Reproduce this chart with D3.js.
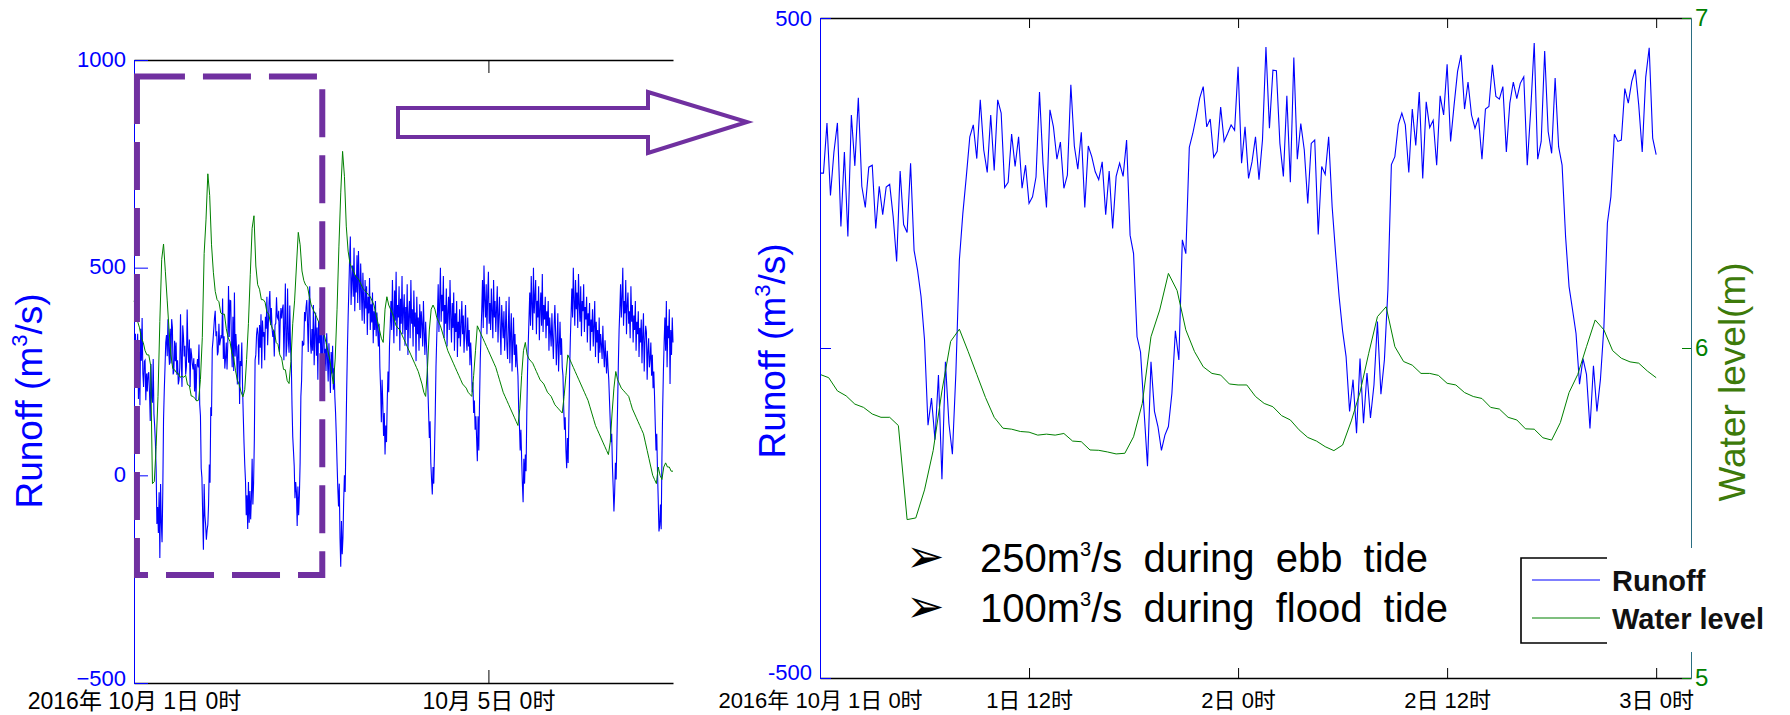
<!DOCTYPE html>
<html>
<head>
<meta charset="utf-8">
<script src="https://cdn.jsdelivr.net/npm/d3@7"></script>
<style>
body{margin:0;background:#fff}
text{font-family:"Liberation Sans",Arial,"Noto Sans CJK SC",sans-serif}
</style>
</head>
<body>
<script>
// runoff (m3/s), one value every 12 min from 2016-10-01 0:00
var runoff=[
265,265,341,231,297,341,184,297,169,353,276,379,245,213,274,277,181,245,202,244,248,199,131,268,187,175,280,148,118,78,12,-117,-76,-139,-41,-199,-21,-114,-161,-38,133,204,260,320,338,287,376,300,266,353,269,376,356,243,251,324,275,320,242,277,219,
229,259,388,280,213,361,335,286,312,242,262,399,306,271,327,213,306,290,267,255,282,202,268,181,260,280,260,315,171,143,17,-6,-94,-179,-21,-96,-119,-155,-132,-119,-69,26,-18,164,143,304,325,351,379,396,335,347,289,298,365,313,325,338,330,
426,280,335,257,282,320,255,315,456,333,421,420,310,260,382,251,440,286,340,300,219,310,315,172,275,263,320,214,143,78,26,-13,-96,-48,-129,-16,-114,-38,-106,-56,40,-70,-18,88,278,290,339,356,338,266,362,307,388,257,373,334,345,277,
382,353,430,313,368,419,444,362,403,353,333,349,286,362,366,429,381,377,396,297,371,403,378,401,411,277,361,462,286,313,450,328,295,409,305,277,169,93,58,22,-55,-16,-40,-122,-27,-96,-48,32,189,229,324,313,315,393,371,404,422,368,297,410,455,318,293,
352,300,410,265,338,392,288,356,230,371,318,402,276,345,214,330,388,262,305,251,342,281,226,318,270,198,297,245,312,206,258,190,
150,96,30,-30,-75,-20,-150,-220,-110,-190,-150,-60,0,-40,80,200,300,380,
450,520,575,410,470,505,430,548,395,482,440,530,415,540,462,398,510,445,372,488,420,365,470,402,455,338,430,390,475,350,412,368,440,318,395,350,420,335,392,350,310,365,
260,210,128,230,170,95,150,50,120,80,180,250,200,310,360,
420,350,470,390,318,445,372,490,335,410,380,455,300,425,365,480,340,398,436,312,405,350,460,290,388,420,330,470,365,400,310,445,358,392,275,430,340,380,300,412,330,395,365,310,420,345,290,370,320,280,
210,150,90,130,30,-10,-46,20,-20,60,150,260,330,
390,460,345,420,500,370,435,395,480,330,410,365,450,310,395,430,350,470,380,320,415,355,440,300,390,345,420,285,370,330,400,310,360,420,340,385,295,350,410,330,300,380,310,350,265,320,280,
200,224,150,180,110,142,90,34,142,60,180,280,340,
400,470,355,505,420,380,460,340,430,490,365,415,350,450,395,330,470,380,420,345,400,455,320,385,430,350,290,410,365,330,395,300,350,420,315,280,360,430,270,340,390,250,320,380,290,340,260,315,270,240,
160,120,60,110,40,-20,-65,40,-20,50,10,150,250,320,380,
440,360,480,410,350,500,390,430,470,340,420,380,455,325,400,440,360,485,345,410,375,430,330,395,360,420,300,380,345,310,390,330,280,360,410,345,265,320,390,250,310,370,290,330,260,240,
160,110,140,60,17,90,30,140,250,330,390,
450,380,500,420,360,470,400,440,355,485,410,370,455,335,420,395,460,345,405,375,430,320,390,360,415,300,375,345,400,310,360,420,285,370,320,350,270,380,295,340,315,280,360,300,260,325,285,245,300,260,230,
180,130,80,100,20,-30,-87,-40,30,-10,80,170,270,350,400,
460,380,430,500,360,420,390,470,340,410,440,365,395,330,455,370,410,320,385,350,420,300,370,340,395,285,355,320,375,270,340,390,250,320,360,345,230,300,330,260,280,320,240,290,210,250,190,
120,60,100,10,-60,-135,-120,-70,-130,40,160,250,320,
380,300,420,260,360,330,400,220,350,290,380,320
]
var runoffStep=0.2

// water level (m), one value every 30 min
var waterLevel=[
5.92,5.91,5.87,5.855,5.83,5.82,5.80,5.79,5.79,5.765,
5.48,5.485,5.57,5.69,5.87,6.02,6.057,5.99,5.92,5.85,
5.79,5.757,5.754,5.747,5.745,5.736,5.739,5.736,5.741,5.718,
5.716,5.691,5.690,5.685,5.679,5.681,5.731,5.832,6.034,6.115,
6.226,6.174,6.055,5.989,5.943,5.923,5.918,5.891,5.888,5.888,
5.853,5.832,5.822,5.795,5.782,5.752,5.729,5.718,5.701,5.689,
5.706,5.779,5.866,5.984,6.095,6.125,6.004,5.959,5.948,5.923,
5.923,5.917,5.893,5.888,5.865,5.853,5.847,5.820,5.815,5.790,
5.782,5.755,5.754,5.728,5.721,5.774,5.865,5.920,6.004,6.085,
6.055,5.992,5.969,5.958,5.954,5.93,5.91,5.90,5.89,5.88,
5.87,5.86,5.85,5.84,5.82,5.80,5.78,5.75,5.72,5.78,
5.90,6.05,6.18,6.28,6.22,6.10,6.04,6.01,6.00,5.99,
5.98,5.975,5.97,5.96,5.95,5.945,5.94,5.935,5.93,5.92,
5.91,5.89,5.87,5.85,5.83,5.82,5.90,5.93,5.91,5.90,
5.89,5.875,5.86,5.855,5.85,5.84,5.83,5.82,5.81,5.80,
5.79,5.78,5.77,5.76,5.75,5.735,5.72,5.70,5.69,5.76,
5.85,5.90,5.91,5.90,5.88,5.87,5.86,5.845,5.83,5.815,
5.80,5.79,5.78,5.77,5.76,5.75,5.74,5.73,5.72,5.715,
5.71,5.70,5.695,5.69,5.74,5.80,5.86,5.85,5.84,5.83,
5.82,5.81,5.80,5.79,5.78,5.77,5.76,5.745,5.73,5.715,
5.70,5.69,5.68,5.67,5.66,5.65,5.64,5.63,5.62,5.66,
5.74,5.80,5.82,5.79,5.78,5.775,5.77,5.76,5.75,5.74,
5.73,5.725,5.72,5.71,5.70,5.695,5.69,5.68,5.67,5.665,
5.66,5.655,5.65,5.69,5.74,5.79,5.78,5.77,5.76,5.75,
5.74,5.73,5.72,5.71,5.70,5.69,5.68,5.665,5.65,5.635,
5.62,5.61,5.60,5.59,5.58,5.57,5.56,5.55,5.58,5.65,
5.71,5.75,5.73,5.72,5.71,5.705,5.70,5.695,5.69,5.675,
5.66,5.65,5.64,5.63,5.62,5.61,5.60,5.58,5.56,5.54,
5.52,5.50,5.49,5.48,5.52,5.50,5.49,5.52,5.53,5.52,
5.52,5.51,5.51
]
var levelStep=0.5

// axis ticks (hours from 2016-10-01 0:00)
var overviewTicks=[0,96]
var overviewTickLabels=["2016年 10月 1日 0时","10月 5日 0时"]
var zoomTicks=[0,12,24,36,48]
var zoomTickLabels=["2016年 10月 1日 0时","1日 12时","2日 0时","2日 12时","3日 0时"]
var overviewRunoffTicks=[-500,0,500,1000]
var zoomRunoffTicks=[-500,0,500]
var zoomRunoffLabels=["-500","","500"]
var levelTicks=[5,6,7]
var legendNames=["Runoff","Water level"]
var notes=[{q:"250",rest:"during ebb tide"},{q:"100",rest:"during flood tide"}]

var BLUE="#0000ff", GREEN="#008000", PURPLE="#7030a0"

var runoffPts=runoff.map(function(v,i){return {t:i*runoffStep,v:v}})
var levelPts=waterLevel.map(function(v,i){return {t:i*levelStep,v:v}})

var svg=d3.select("body").append("svg").attr("width",1790).attr("height",715)

//---------- overview (left)
var xL=d3.scaleLinear().domain([0,146]).range([134,673])
var yL=d3.scaleLinear().domain([-500,1000]).range([683,60])
var wL=d3.scaleLinear().domain([5,6.5]).range([683,60])

svg.append("path").datum(runoffPts)
  .attr("d",d3.line().x(function(d){return xL(d.t)}).y(function(d){return yL(d.v)}))
  .attr("fill","none").attr("stroke",BLUE).attr("stroke-width",1.1)
svg.append("path").datum(levelPts)
  .attr("d",d3.line().x(function(d){return xL(d.t)}).y(function(d){return wL(d.v)}))
  .attr("fill","none").attr("stroke",GREEN).attr("stroke-width",1)

var axB=svg.append("g").attr("transform","translate(0,683)").attr("color","#000")
  .call(d3.axisBottom(xL).tickValues(overviewTicks).tickFormat(function(d,i){return overviewTickLabels[i]})
    .tickSizeInner(-13).tickSizeOuter(0).tickPadding(10))
axB.attr("font-size",23).attr("font-family",null)
axB.select(".domain").attr("stroke-width",1.6)
svg.append("g").attr("transform","translate(0,60)").attr("color","#000")
  .call(d3.axisTop(xL).tickValues([96]).tickFormat("").tickSizeInner(-13).tickSizeOuter(0))
  .select(".domain").attr("stroke-width",1.6)

var axL=svg.append("g").attr("transform","translate(134,0)").attr("color",BLUE)
  .call(d3.axisLeft(yL).tickValues(overviewRunoffTicks).tickFormat(d3.format("d"))
    .tickSizeInner(-14).tickSizeOuter(0).tickPadding(8))
axL.attr("font-size",22).attr("font-family",null)
axL.selectAll("text").attr("dy",function(d){return d==-500?"0.1em":"0.28em"})

var yTitle=function(x,y){
  var t=svg.append("text").attr("transform","translate("+x+","+y+") rotate(-90)")
    .attr("text-anchor","middle").attr("fill",BLUE).attr("font-size",37)
  t.append("tspan").text("Runoff (m")
  t.append("tspan").attr("dy",-15).attr("font-size",22).text("3")
  t.append("tspan").attr("dy",15).text("/s)")
}
yTitle(42,401)

// highlighted first two days
svg.append("rect")
  .attr("x",xL(0.8)).attr("y",yL(960))
  .attr("width",xL(51)-xL(0.8)).attr("height",yL(-240)-yL(960))
  .attr("fill","none").attr("stroke",PURPLE).attr("stroke-width",6)
  .attr("stroke-dasharray","48,18")

// block arrow
svg.append("path").attr("d","M398,108H648V92L747,122L648,153V137H398Z")
  .attr("fill","#fff").attr("stroke",PURPLE).attr("stroke-width",4)

//---------- zoom (right)
var xR=d3.scaleLinear().domain([0,50]).range([820,1691])
var yR=d3.scaleLinear().domain([-500,500]).range([678,18])
var wR=d3.scaleLinear().domain([5,7]).range([678,18])

svg.append("path").datum(runoffPts.filter(function(d){return d.t<=48}))
  .attr("d",d3.line().x(function(d){return xR(d.t)}).y(function(d){return yR(d.v)}))
  .attr("fill","none").attr("stroke",BLUE).attr("stroke-width",1.1)
svg.append("path").datum(levelPts.filter(function(d){return d.t<=48}))
  .attr("d",d3.line().x(function(d){return xR(d.t)}).y(function(d){return wR(d.v)}))
  .attr("fill","none").attr("stroke",GREEN).attr("stroke-width",1)

var axRB=svg.append("g").attr("transform","translate(0,678)").attr("color","#000")
  .call(d3.axisBottom(xR).tickValues(zoomTicks).tickFormat(function(d,i){return zoomTickLabels[i]})
    .tickSizeInner(-10).tickSizeOuter(0).tickPadding(14))
axRB.attr("font-size",22).attr("font-family",null)
axRB.select(".domain").attr("stroke-width",1.6)
svg.append("g").attr("transform","translate(0,18)").attr("color","#000")
  .call(d3.axisTop(xR).tickValues(zoomTicks).tickFormat("").tickSizeInner(-10).tickSizeOuter(0))
  .select(".domain").attr("stroke-width",1.6)

var axRL=svg.append("g").attr("transform","translate(820,0)").attr("color",BLUE)
  .call(d3.axisLeft(yR).tickValues(zoomRunoffTicks).tickFormat(function(d,i){return zoomRunoffLabels[i]})
    .tickSizeInner(-11).tickSizeOuter(0).tickPadding(8))
axRL.attr("font-size",22).attr("font-family",null)
axRL.selectAll("text").attr("dy",function(d){return d==-500?"0.05em":"0.32em"})

var axRR=svg.append("g").attr("transform","translate(1691,0)").attr("color","#2a6e82")
  .call(d3.axisRight(wR).tickValues(levelTicks).tickFormat(d3.format("d"))
    .tickSizeInner(-9).tickSizeOuter(0).tickPadding(4))
axRR.attr("font-size",24).attr("font-family",null)
axRR.selectAll(".tick line").attr("stroke",GREEN)
axRR.selectAll("text").attr("fill",GREEN)

yTitle(785,351)
svg.append("text").attr("transform","translate(1745,382) rotate(-90)")
  .attr("text-anchor","middle").attr("fill","#3d7a0a").attr("font-size",37)
  .text("Water level(m)")

// notes
notes.forEach(function(n,i){
  var y=572+i*50
  svg.append("text").attr("x",906).attr("y",y).attr("font-size",46)
    .style("font-family","DejaVu Sans").text("➢")
  var t=svg.append("text").attr("x",980).attr("y",y).attr("font-size",40)
    .attr("word-spacing",10).attr("fill","#000")
  t.append("tspan").text(n.q+"m")
  t.append("tspan").attr("dy",-16).attr("font-size",20).text("3")
  t.append("tspan").attr("dy",16).text("/s "+n.rest)
})

// legend
var lg=svg.append("g")
lg.append("rect").attr("x",1514).attr("y",548).attr("width",276).attr("height",104).attr("fill","#fff")
lg.append("path").attr("d","M1607,558H1521V643H1607").attr("fill","none").attr("stroke","#000").attr("stroke-width",1.6)
legendNames.forEach(function(name,i){
  var y=580+i*38
  lg.append("line").attr("x1",1532).attr("x2",1600).attr("y1",y).attr("y2",y)
    .attr("stroke",i==0?BLUE:GREEN).attr("stroke-width",1.2)
  lg.append("text").attr("x",1612).attr("y",y+11).attr("font-size",29).attr("font-weight","bold")
    .attr("fill","#111").text(name)
})
</script>
</body>
</html>
